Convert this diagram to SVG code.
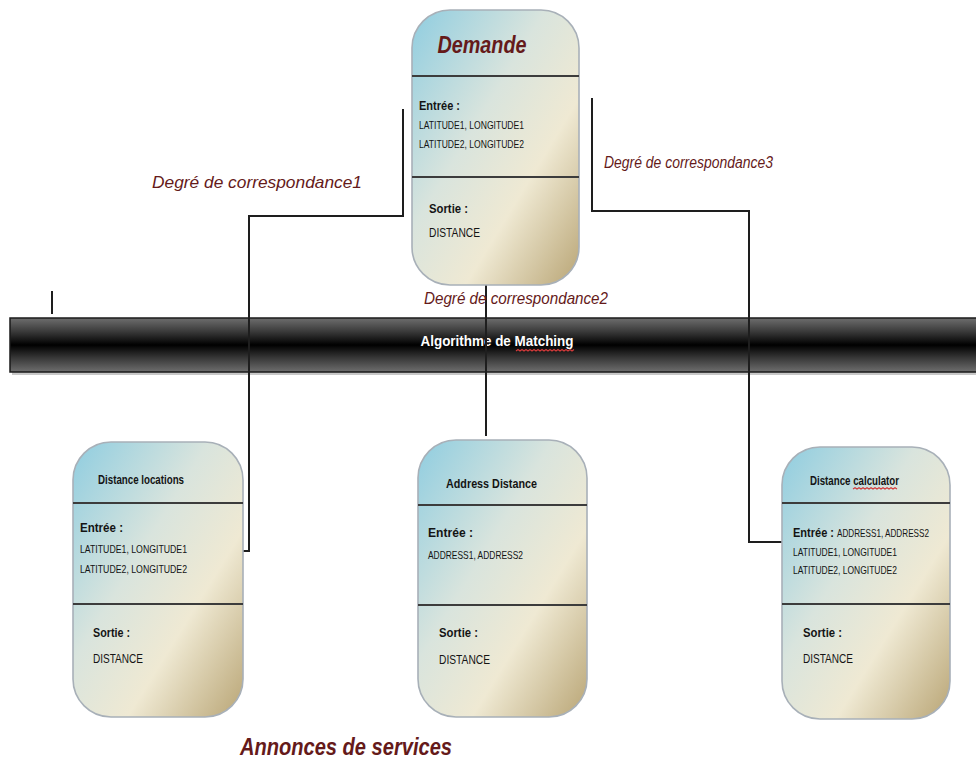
<svg xmlns="http://www.w3.org/2000/svg" width="976" height="760" viewBox="0 0 976 760">
  <defs>
    <linearGradient id="nodeFill" x1="0" y1="0" x2="1" y2="1">
      <stop offset="0" stop-color="#8fcde0"/>
      <stop offset="0.4" stop-color="#d9e4dd"/>
      <stop offset="0.66" stop-color="#efe9d3"/>
      <stop offset="1" stop-color="#b9a575"/>
    </linearGradient>
    <linearGradient id="barFill" x1="0" y1="0" x2="0" y2="1">
      <stop offset="0" stop-color="#6e6e6e"/>
      <stop offset="0.25" stop-color="#3a3a3a"/>
      <stop offset="0.5" stop-color="#000000"/>
      <stop offset="0.75" stop-color="#3a3a3a"/>
      <stop offset="1" stop-color="#6e6e6e"/>
    </linearGradient>
    <style>
      .box { fill: url(#nodeFill); stroke: #a8b0b8; stroke-width: 1.6; }
      .div { stroke: #3c3c3c; stroke-width: 2; }
      .wire { fill: none; stroke: #1e1e1e; stroke-width: 2; }
      .t { font-family: "Liberation Sans", Arial, sans-serif; fill: #141414; }
      .hd { font-weight: bold; font-size: 12px; }
      .lbl { font-weight: bold; font-size: 13px; }
      .small { font-size: 10.5px; }
      .val { font-size: 13.5px; }
      .red { font-family: "Liberation Sans", Arial, sans-serif; fill: #651a1a; font-style: italic; }
      .squig { fill: none; stroke: #d23a3a; stroke-width: 1.2; }
    </style>
  </defs>

  <rect width="976" height="760" fill="#ffffff"/>

  <!-- matching bar -->
  <g id="matching-bar">
    <rect x="12" y="321" width="970" height="54" fill="#c8c8c8"/>
    <rect x="10" y="318" width="970" height="54" fill="url(#barFill)" stroke="#1a1a1a" stroke-width="1.5"/>
    <text class="t" x="497" y="346" text-anchor="middle" font-size="15.5" font-weight="bold" style="fill:#ffffff" textLength="153" lengthAdjust="spacingAndGlyphs">Algorithme de Matching</text>
    <path class="squig" d="M516 351 l2 -1.5 l2 1.5 l2 -1.5 l2 1.5 l2 -1.5 l2 1.5 l2 -1.5 l2 1.5 l2 -1.5 l2 1.5 l2 -1.5 l2 1.5 l2 -1.5 l2 1.5 l2 -1.5 l2 1.5 l2 -1.5 l2 1.5 l2 -1.5 l2 1.5 l2 -1.5 l2 1.5 l2 -1.5 l2 1.5 l2 -1.5 l2 1.5 l2 -1.5 l2 1.5 l2 -1.5"/>
  </g>

  <!-- connectors -->
  <g id="connectors">
    <path class="wire" d="M403 109 V216 H249 V551 H197"/>
    <path class="wire" d="M592 98 V211 H749 V542 H783"/>
    <path class="wire" d="M486 283 V436"/>
    <path class="wire" d="M52 291 V314"/>
  </g>

  <!-- request node -->
  <g id="demande">
    <rect class="box" x="412" y="10" width="167" height="275" rx="38" ry="38"/>
    <line class="div" x1="412" y1="76" x2="579" y2="76"/>
    <line class="div" x1="412" y1="177" x2="579" y2="177"/>
    <text class="red" x="482" y="53" text-anchor="middle" font-size="23" font-weight="bold" textLength="89" lengthAdjust="spacingAndGlyphs">Demande</text>
    <text class="t lbl" x="419" y="110" textLength="41" lengthAdjust="spacingAndGlyphs">Entrée :</text>
    <text class="t small" x="419" y="129" textLength="105" lengthAdjust="spacingAndGlyphs">LATITUDE1, LONGITUDE1</text>
    <text class="t small" x="419" y="148" textLength="105" lengthAdjust="spacingAndGlyphs">LATITUDE2, LONGITUDE2</text>
    <text class="t lbl" x="429" y="213" textLength="39" lengthAdjust="spacingAndGlyphs">Sortie :</text>
    <text class="t val" x="429" y="237" textLength="51" lengthAdjust="spacingAndGlyphs">DISTANCE</text>
  </g>

  <!-- service: Distance locations -->
  <g id="distance-locations">
    <rect class="box" x="73" y="442" width="170" height="275" rx="38" ry="38"/>
    <line class="div" x1="73" y1="503" x2="243" y2="503"/>
    <line class="div" x1="73" y1="604" x2="243" y2="604"/>
    <text class="t hd" x="98" y="484" textLength="86" lengthAdjust="spacingAndGlyphs">Distance locations</text>
    <text class="t lbl" x="80" y="532" textLength="43" lengthAdjust="spacingAndGlyphs">Entrée :</text>
    <text class="t small" x="80" y="553" textLength="107" lengthAdjust="spacingAndGlyphs">LATITUDE1, LONGITUDE1</text>
    <text class="t small" x="80" y="573" textLength="107" lengthAdjust="spacingAndGlyphs">LATITUDE2, LONGITUDE2</text>
    <text class="t lbl" x="93" y="637" textLength="37" lengthAdjust="spacingAndGlyphs">Sortie :</text>
    <text class="t val" x="93" y="663" textLength="50" lengthAdjust="spacingAndGlyphs">DISTANCE</text>
  </g>

  <!-- service: Address Distance -->
  <g id="address-distance">
    <rect class="box" x="418" y="440" width="169" height="277" rx="38" ry="38"/>
    <line class="div" x1="418" y1="505" x2="587" y2="505"/>
    <line class="div" x1="418" y1="605" x2="587" y2="605"/>
    <text class="t hd" x="446" y="488" font-size="13" textLength="91" lengthAdjust="spacingAndGlyphs">Address Distance</text>
    <text class="t lbl" x="428" y="537" textLength="45" lengthAdjust="spacingAndGlyphs">Entrée :</text>
    <text class="t small" x="428" y="559" textLength="95" lengthAdjust="spacingAndGlyphs">ADDRESS1, ADDRESS2</text>
    <text class="t lbl" x="439" y="637" textLength="39" lengthAdjust="spacingAndGlyphs">Sortie :</text>
    <text class="t val" x="439" y="664" textLength="51" lengthAdjust="spacingAndGlyphs">DISTANCE</text>
  </g>

  <!-- service: Distance calculator -->
  <g id="distance-calculator">
    <rect class="box" x="782" y="447" width="168" height="272" rx="38" ry="38"/>
    <line class="div" x1="782" y1="503" x2="950" y2="503"/>
    <line class="div" x1="782" y1="604" x2="950" y2="604"/>
    <text class="t hd" x="810" y="485" textLength="89" lengthAdjust="spacingAndGlyphs">Distance calculator</text>
    <path class="squig" d="M853 489 l2 -1.2 l2 1.2 l2 -1.2 l2 1.2 l2 -1.2 l2 1.2 l2 -1.2 l2 1.2 l2 -1.2 l2 1.2 l2 -1.2 l2 1.2 l2 -1.2 l2 1.2 l2 -1.2 l2 1.2 l2 -1.2 l2 1.2 l2 -1.2 l2 1.2 l2 -1.2 l2 1.2"/>
    <text class="t lbl" x="793" y="537" textLength="41" lengthAdjust="spacingAndGlyphs">Entrée :</text>
    <text class="t small" x="837" y="537" textLength="92" lengthAdjust="spacingAndGlyphs">ADDRESS1, ADDRESS2</text>
    <text class="t small" x="793" y="556" textLength="104" lengthAdjust="spacingAndGlyphs">LATITUDE1, LONGITUDE1</text>
    <text class="t small" x="793" y="574" textLength="104" lengthAdjust="spacingAndGlyphs">LATITUDE2, LONGITUDE2</text>
    <text class="t lbl" x="803" y="637" textLength="39" lengthAdjust="spacingAndGlyphs">Sortie :</text>
    <text class="t val" x="803" y="663" textLength="50" lengthAdjust="spacingAndGlyphs">DISTANCE</text>
  </g>

  <!-- connector labels -->
  <g id="labels">
    <text class="red" x="152" y="188" font-size="17" textLength="210" lengthAdjust="spacingAndGlyphs">Degré de correspondance1</text>
    <text class="red" x="424" y="304" font-size="17" textLength="184" lengthAdjust="spacingAndGlyphs">Degré de correspondance2</text>
    <text class="red" x="604" y="168" font-size="16" textLength="169" lengthAdjust="spacingAndGlyphs">Degré de correspondance3</text>
    <text class="red" x="240" y="755" font-size="23" font-weight="bold" textLength="212" lengthAdjust="spacingAndGlyphs">Annonces de services</text>
  </g>
</svg>
